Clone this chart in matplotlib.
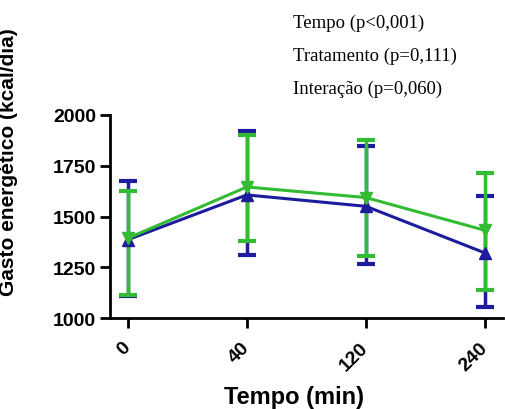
import matplotlib
matplotlib.use("Agg")
import matplotlib.pyplot as plt

categories = ["0", "40", "120", "240"]
blue_mean = [1386, 1606, 1550, 1321]
blue_upper = [1673, 1918, 1848, 1599]
blue_lower = [1111, 1311, 1267, 1054]
green_mean = [1393, 1645, 1593, 1432]
green_upper = [1624, 1902, 1877, 1712]
green_lower = [1116, 1381, 1307, 1139]
yticks = [1000, 1250, 1500, 1750, 2000]
stats_text = ["Tempo (p<0,001)", "Tratamento (p=0,111)", "Interação (p=0,060)"]

BLUE = "#1c1c9c"
GREEN = "#33bb33"

fig = plt.figure(figsize=(5.05, 4.10), dpi=100)
ax = fig.add_axes([110 / 505, 1 - 319.3 / 410, 393 / 505, 203.6 / 410])
x = list(range(len(categories)))

for mean, up, lo, color, marker in [
    (blue_mean, blue_upper, blue_lower, BLUE, "^"),
    (green_mean, green_upper, green_lower, GREEN, "v"),
]:
    yerr = [[m - l for m, l in zip(mean, lo)], [u - m for m, u in zip(mean, up)]]
    ax.errorbar(x, mean, yerr=yerr, color=color, marker=marker, markersize=8,
                linewidth=2.2, elinewidth=2.5, capsize=6.5, capthick=3)

ax.set_xlim(-0.149, 3.151)
ax.set_ylim(1000, 2000)
ax.set_yticks(yticks)
ax.set_yticklabels([str(v) for v in yticks], fontsize=14, fontweight="bold",
                   family="Liberation Sans")
ax.set_xticks(x)
ax.set_xticklabels(categories, rotation=45, fontsize=14, fontweight="bold",
                   family="Liberation Sans", ha="right", va="center",
                   rotation_mode="anchor")
for s in ["top", "right"]:
    ax.spines[s].set_visible(False)
for s in ["left", "bottom"]:
    ax.spines[s].set_linewidth(2)
ax.tick_params(width=2, length=7, direction="out")
ax.tick_params(axis="y", pad=3)
ax.tick_params(axis="x", pad=12)
ax.set_xlabel("Tempo (min)", fontsize=17, fontweight="bold", family="Liberation Sans")
ax.xaxis.set_label_coords((294 - 110) / 393, (319.3 - 404) / 203.6)
ax.xaxis.label.set_va("baseline")
ax.set_ylabel("Gasto energético (kcal/dia)", fontsize=15, fontweight="bold",
              family="Liberation Sans")
ax.yaxis.set_label_coords((18 - 110) / 393, (319.3 - 162.5) / 203.6)

for i, t in enumerate(stats_text):
    fig.text(293 / 505, 1 - (28 + i * 33) / 410, t, fontsize=13.5,
             family="Liberation Serif", ha="left", va="baseline")

fig.savefig("out.png", dpi=100)
